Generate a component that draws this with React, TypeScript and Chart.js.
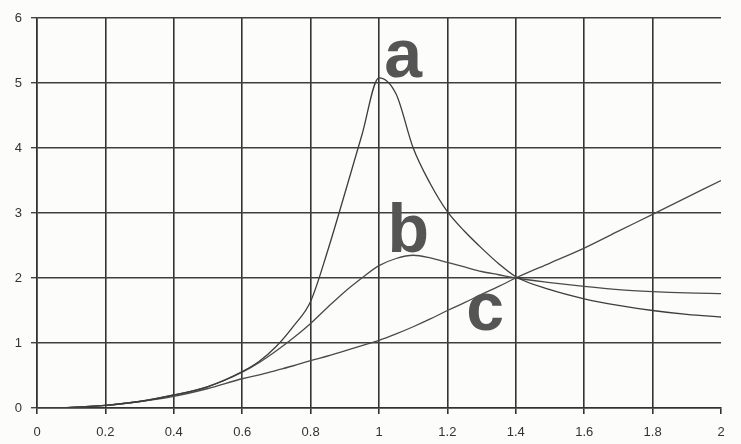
import React, { useEffect, useRef } from "react";
import { Chart, registerables } from "chart.js";

Chart.register(...registerables);

const xValues = [0, 0.1, 0.2, 0.3, 0.4, 0.5, 0.6, 0.65, 0.7, 0.75, 0.8, 0.85, 0.9, 0.95, 1.0, 1.05, 1.1, 1.15, 1.2, 1.25, 1.3, 1.35, 1.4, 1.5, 1.6, 1.7, 1.8, 1.9, 2.0];
const seriesA = [0, 0.01, 0.04, 0.1, 0.2, 0.33, 0.56, 0.72, 0.95, 1.26, 1.64, 2.42, 3.3, 4.2, 5.08, 4.83, 4.0, 3.45, 3.02, 2.72, 2.46, 2.22, 2.02, 1.82, 1.68, 1.58, 1.5, 1.44, 1.4];
const seriesB = [0, 0.01, 0.04, 0.1, 0.2, 0.33, 0.55, 0.7, 0.88, 1.08, 1.3, 1.55, 1.79, 2.0, 2.19, 2.3, 2.35, 2.31, 2.24, 2.17, 2.1, 2.05, 2.0, 1.93, 1.87, 1.82, 1.79, 1.77, 1.76];
const seriesC = [0, 0.01, 0.04, 0.1, 0.18, 0.3, 0.45, 0.51, 0.58, 0.65, 0.73, 0.8, 0.88, 0.96, 1.04, 1.14, 1.25, 1.37, 1.5, 1.62, 1.75, 1.87, 2.0, 2.23, 2.46, 2.72, 2.98, 3.24, 3.5];

const curveLetters = ["a", "b", "c"];
const letterX = [1.015, 1.025, 1.255];
const letterY = [5.09, 2.4, 1.2];

const xTicks = [0, 0.2, 0.4, 0.6, 0.8, 1, 1.2, 1.4, 1.6, 1.8, 2];
const yTicks = [0, 1, 2, 3, 4, 5, 6];

const toPoints = (ys: number[]) => xValues.map((x, i) => ({ x, y: ys[i] }));

const lettersPlugin = {
  id: "curveLetters",
  afterDatasetsDraw(chart: any) {
    const { ctx, scales } = chart;
    ctx.save();
    ctx.font = 'bold 68px "Liberation Sans", Arial, sans-serif';
    ctx.fillStyle = "#555555";
    ctx.textAlign = "left";
    ctx.textBaseline = "alphabetic";
    curveLetters.forEach((t, i) => {
      ctx.fillText(t, scales.x.getPixelForValue(letterX[i]), scales.y.getPixelForValue(letterY[i]));
    });
    ctx.restore();
  },
};

const bgPlugin = {
  id: "bg",
  beforeDraw(chart: any) {
    const { ctx, width, height } = chart;
    ctx.save();
    ctx.fillStyle = "#fcfcfa";
    ctx.fillRect(0, 0, width, height);
    ctx.restore();
  },
};

export default function App() {
  const ref = useRef<HTMLCanvasElement | null>(null);
  useEffect(() => {
    if (!ref.current) return;
    const lineStyle = (data: number[], color: string) => ({
      data: toPoints(data),
      borderColor: color,
      borderWidth: 1.3,
      pointRadius: 0,
      cubicInterpolationMode: "monotone" as const,
      fill: false,
    });
    const chart = new Chart(ref.current, {
      type: "line",
      data: {
        datasets: [
          lineStyle(seriesA, "#3c3c3c"),
          lineStyle(seriesB, "#4a4a4a"),
          lineStyle(seriesC, "#4a4a4a"),
        ],
      },
      options: {
        animation: false,
        responsive: true,
        maintainAspectRatio: false,
        layout: { padding: { top: 18, right: 20, left: 0, bottom: 0 } },
        plugins: { legend: { display: false }, tooltip: { enabled: false } },
        scales: {
          x: {
            type: "linear",
            min: 0,
            max: 2,
            afterBuildTicks: (s: any) => {
              s.ticks = xTicks.map((v) => ({ value: v }));
            },
            afterFit: (s: any) => {
              s.height = 36;
            },
            border: { color: "#333", width: 1.5 },
            grid: {
              color: (c: any) => (c.tick && c.tick.value === 2 ? "rgba(0,0,0,0)" : "#333"),
              tickColor: "#333",
              lineWidth: 1.6,
              tickLength: 6,
            },
            ticks: {
              color: "#333",
              font: { family: "Liberation Sans, Arial, sans-serif", size: 13 },
              padding: 11,
              maxRotation: 0,
              autoSkip: false,
              callback: (v: any) => String(v),
            },
          },
          y: {
            type: "linear",
            min: 0,
            max: 6,
            afterBuildTicks: (s: any) => {
              s.ticks = yTicks.map((v) => ({ value: v }));
            },
            afterFit: (s: any) => {
              s.width = 37;
            },
            border: { color: "#333", width: 1.5 },
            grid: {
              color: "#3e3e3e",
              tickColor: "#444",
              lineWidth: 1.4,
              tickLength: 6,
            },
            ticks: {
              color: "#333",
              font: { family: "Liberation Sans, Arial, sans-serif", size: 13 },
              padding: 9,
              callback: (v: any) => String(v),
            },
          },
        },
      },
      plugins: [bgPlugin, lettersPlugin],
    });
    return () => chart.destroy();
  }, []);
  return (
    <div style={{ position: "fixed", left: 0, top: 0, width: 741, height: 444, background: "#fcfcfa" }}>
      <canvas ref={ref} />
    </div>
  );
}
